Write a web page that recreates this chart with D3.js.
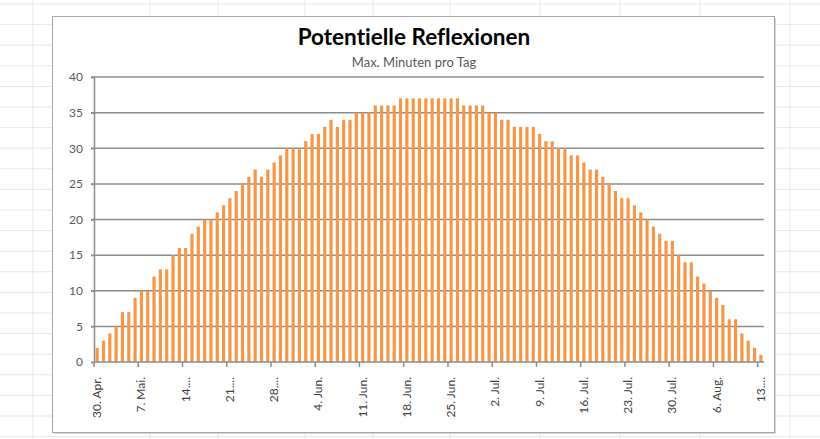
<!DOCTYPE html>
<html>
<head>
<meta charset="utf-8">
<script src="https://cdn.jsdelivr.net/npm/d3@7"></script>
<style>
  body { margin: 0; background: #fff; }
  svg { display: block; }
  text { font-family: Lato, "Open Sans", sans-serif; font-variant-ligatures: none; }
</style>
</head>
<body>
<svg id="chart" width="820" height="439"></svg>
<script>
// One category per day, 30 April to 13 August
const days = d3.timeDay.range(new Date(2021, 3, 30), new Date(2021, 7, 14));

// Maximum reflection minutes per day
const minutes = [
  2, 3, 4, 5, 7, 7, 9, 10, 10, 12,
  13, 13, 15, 16, 16, 18, 19, 20, 20, 21,
  22, 23, 24, 25, 26, 27, 26, 27, 28, 29,
  30, 30, 30, 31, 32, 32, 33, 34, 33, 34,
  34, 35, 35, 35, 36, 36, 36, 36, 37, 37,
  37, 37, 37, 37, 37, 37, 37, 37, 36, 36,
  36, 36, 35, 35, 34, 34, 33, 33, 33, 33,
  32, 31, 31, 30, 30, 29, 29, 28, 27, 27,
  26, 25, 24, 23, 23, 22, 21, 20, 19, 18,
  17, 17, 15, 14, 14, 12, 11, 10, 9, 8,
  6, 6, 4, 3, 2, 1
];

// Axis labels, one every seven days (as truncated by the axis)
const tickLabels = ["30. Apr.", "7. Mai.", "14....", "21....", "28....", "4. Jun.",
  "11. Jun.", "18. Jun.", "25. Jun.", "2. Jul.", "9. Jul.", "16. Jul.",
  "23. Jul.", "30. Jul.", "6. Aug.", "13...."];
const yTicks = [0, 5, 10, 15, 20, 25, 30, 35, 40];

const title = "Potentielle Reflexionen";
const subtitle = "Max. Minuten pro Tag";

const svg = d3.select("#chart");
const W = 820, H = 439;

// Spreadsheet cells behind the chart object
const sheet = svg.append("g");
const colEdges = [33, 150, 218, 305, 373, 450, 540, 620, 700, 790];
const rowEdges = d3.range(4, H, 20.6);
sheet.selectAll("line.c").data(colEdges).join("line")
  .attr("x1", d => d).attr("x2", d => d).attr("y1", 0).attr("y2", H)
  .attr("stroke", "#e6e6e6");
sheet.selectAll("line.r").data(rowEdges).join("line")
  .attr("x1", 0).attr("x2", W).attr("y1", d => d).attr("y2", d => d)
  .attr("stroke", "#e6e6e6");

// Chart object area
const frame = { x: 52.5, y: 16.5, w: 722, h: 416 };
svg.append("rect")
  .attr("x", frame.x + 1.5).attr("y", frame.y + 1.5)
  .attr("width", frame.w).attr("height", frame.h)
  .attr("fill", "#d8d8d8");
svg.append("rect")
  .attr("x", frame.x).attr("y", frame.y)
  .attr("width", frame.w).attr("height", frame.h)
  .attr("fill", "#fff").attr("stroke", "#a6a6a6");

const plot = { left: 94, right: 764, top: 77, bottom: 362 };

const x = d3.scaleBand()
  .domain(days)
  .range([plot.left, plot.right])
  .paddingInner(0.5)
  .paddingOuter(0.25);

const y = d3.scaleLinear()
  .domain([0, 40])
  .range([plot.bottom, plot.top]);

// Horizontal gridlines
svg.append("g")
  .selectAll("line")
  .data(yTicks.filter(t => t > 0))
  .join("line")
  .attr("x1", plot.left - 3).attr("x2", plot.right)
  .attr("y1", d => y(d)).attr("y2", d => y(d))
  .attr("stroke", "#8c8c8c").attr("stroke-width", 1.5);

// Y axis
const yAxis = d3.axisLeft(y).tickValues(yTicks).tickSize(3).tickPadding(8);
const gy = svg.append("g")
  .attr("transform", `translate(${plot.left},0)`)
  .call(yAxis);
gy.select(".domain").attr("stroke", "#8c8c8c").attr("stroke-width", 1.5);
gy.selectAll(".tick line").attr("stroke", "#8c8c8c").attr("stroke-width", 1.5);
gy.selectAll(".tick text")
  .attr("fill", "#595959")
  .style("font-size", "12px")
  .style("font-family", "Lato, 'Open Sans', sans-serif");

// Bars
svg.append("g")
  .selectAll("rect")
  .data(days)
  .join("rect")
  .attr("x", d => x(d))
  .attr("width", x.bandwidth())
  .attr("y", (d, i) => y(minutes[i]))
  .attr("height", (d, i) => y(0) - y(minutes[i]))
  .attr("fill", "#f79646");

// X axis: tick at the left edge of every seventh day, label at its centre
const weekDays = days.filter((d, i) => i % 7 === 0);
const step = x.step();
const xAxisG = svg.append("g");
xAxisG.append("line")
  .attr("x1", plot.left).attr("x2", plot.right)
  .attr("y1", y(0)).attr("y2", y(0))
  .attr("stroke", "#8c8c8c").attr("stroke-width", 1.5);
xAxisG.selectAll("line.tick")
  .data(weekDays)
  .join("line")
  .attr("class", "tick")
  .attr("x1", d => x(d) - step * x.paddingOuter())
  .attr("x2", d => x(d) - step * x.paddingOuter())
  .attr("y1", y(0)).attr("y2", y(0) + 5)
  .attr("stroke", "#8c8c8c").attr("stroke-width", 1.5);
xAxisG.selectAll("text")
  .data(weekDays)
  .join("text")
  .attr("transform", d => `translate(${x(d) + x.bandwidth() / 2 + 4},${y(0) + 15}) rotate(-90)`)
  .attr("text-anchor", "end")
  .attr("fill", "#404040")
  .style("font-size", "12px")
  .text((d, i) => tickLabels[i]);

// Titles
svg.append("text")
  .attr("x", 414).attr("y", 45)
  .attr("text-anchor", "middle")
  .attr("fill", "#000")
  .style("font-size", "22.5px")
  .style("font-weight", "bold")
  .text(title);
svg.append("text")
  .attr("x", 414).attr("y", 67)
  .attr("text-anchor", "middle")
  .attr("fill", "#595959")
  .style("font-size", "13px")
  .text(subtitle);
</script>
</body>
</html>
